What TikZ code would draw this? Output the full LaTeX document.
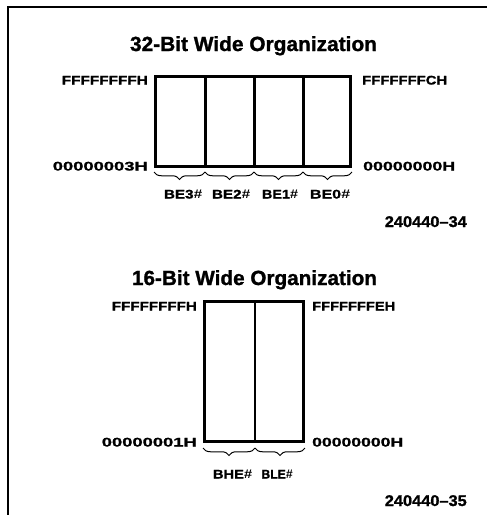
\documentclass[tikz,border=0pt]{standalone}
\usepackage{fontspec}
\setmainfont{Liberation Sans}
\newfontfamily\heavy{Liberation Sans}[Ligatures=TeX,BoldFeatures={FakeBold=1.2}]
\usetikzlibrary{decorations.pathreplacing}
\newcommand\fitw[2]{\resizebox{#1pt}{\height}{#2}}
\newcommand\hsh{{\itshape\#}}
\begin{document}
\begin{tikzpicture}[x=1pt,y=-1pt,
  lbl/.style={inner sep=0pt,font=\heavy\fontsize{12.5}{14}\selectfont\bfseries},
  ttl/.style={inner sep=0pt,font=\heavy\fontsize{20.5}{24}\selectfont\bfseries},
  code/.style={inner sep=0pt,font=\heavy\fontsize{15.5}{18}\selectfont\bfseries},
  mem/.style={line width=3pt},
  brc/.style={decorate,decoration={brace,mirror,amplitude=7.5pt},line width=1pt},
  frm/.style={line width=1.5pt}]
\useasboundingbox (0,0) rectangle (487,515);
\draw[frm] (8,515) -- (8,7) -- (487,7);

% ---- 32-bit ----
\node[ttl,anchor=base] (t1) at (253.5,51) {\fitw{247}{32-Bit Wide Organization}};
\draw[mem] (155.5,76.5) rectangle (350.5,166.5);
\draw[mem] (205,76.5) -- (205,166.5);
\draw[mem] (254,76.5) -- (254,166.5);
\draw[mem] (303,76.5) -- (303,166.5);
\node[lbl,anchor=base east] (a1) at (148,84.5) {\fitw{86}{FFFFFFFFH}};
\node[lbl,anchor=base east] (a2) at (148,170.5) {\fitw{95}{00000003H}};
\node[lbl,anchor=base west] (a3) at (362,84.5) {\fitw{85}{FFFFFFFCH}};
\node[lbl,anchor=base west] (a4) at (363,170.5) {\fitw{92}{00000000H}};
\coordinate (c0) at (154,172);
\coordinate (c1) at (205,172);
\coordinate (c2) at (254,172);
\coordinate (c3) at (303,172);
\coordinate (c4) at (352,172);
\draw[brc] (c0) -- (c1);
\draw[brc] (c1) -- (c2);
\draw[brc] (c2) -- (c3);
\draw[brc] (c3) -- (c4);
\node[lbl,anchor=base] (b3) at (183,198.5) {\fitw{38}{BE3\hsh}};
\node[lbl,anchor=base] (b2) at (231,198.5) {\fitw{38}{BE2\hsh}};
\node[lbl,anchor=base] (b1) at (280,198.5) {\fitw{36}{BE1\hsh}};
\node[lbl,anchor=base] (b0) at (330,198.5) {\fitw{40}{BE0\hsh}};
\node[code,anchor=base east] (n1) at (467,227) {\fitw{82}{240440--34}};

% ---- 16-bit ----
\node[ttl,anchor=base] (t2) at (254.5,285) {\fitw{245}{16-Bit Wide Organization}};
\draw[mem] (204.5,301.5) rectangle (303.5,441.5);
\draw[line width=2.5pt] (255,301.5) -- (255,441.5);
\node[lbl,anchor=base east] (d1) at (197,310.5) {\fitw{85}{FFFFFFFFH}};
\node[lbl,anchor=base east] (d2) at (197,446.5) {\fitw{95}{00000001H}};
\node[lbl,anchor=base west] (d3) at (312,310.5) {\fitw{83}{FFFFFFFEH}};
\node[lbl,anchor=base west] (d4) at (312,446.5) {\fitw{91}{00000000H}};
\coordinate (e0) at (203,448);
\coordinate (e1) at (255,448);
\coordinate (e2) at (305,448);
\draw[brc] (e0) -- (e1);
\draw[brc] (e1) -- (e2);
\node[lbl,anchor=base] (h1) at (232.5,478.5) {\fitw{39}{BHE\hsh}};
\node[lbl,anchor=base] (h2) at (277,478.5) {\fitw{31}{BLE\hsh}};
\node[code,anchor=base east] (n2) at (467,506) {\fitw{82}{240440--35}};
\end{tikzpicture}
\end{document}
